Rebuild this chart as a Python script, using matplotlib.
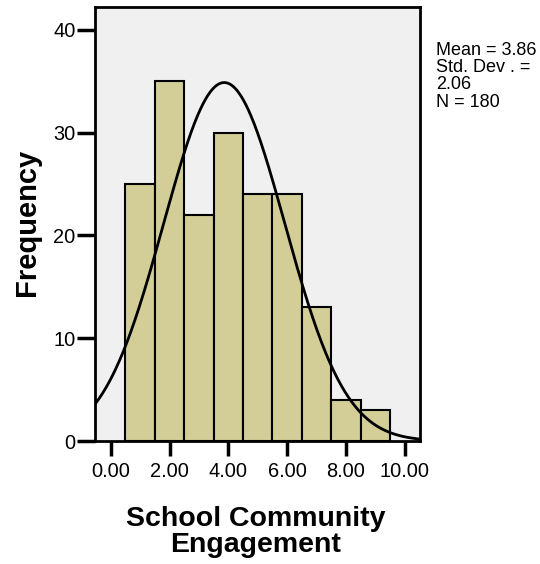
import numpy as np
import matplotlib.pyplot as plt

plt.rcParams['font.family'] = ['Liberation Sans', 'DejaVu Sans']

# histogram bins (width 1) and counts
bin_centers = [1, 2, 3, 4, 5, 6, 7, 8, 9]
counts = [25, 35, 22, 30, 24, 24, 13, 4, 3]
mean = 3.86
std = 2.06
n = 180
x_ticks = [0, 2, 4, 6, 8, 10]
y_ticks = [0, 10, 20, 30, 40]
stats_lines = ['Mean = 3.86', 'Std. Dev . =', '2.06', 'N = 180']

fig = plt.figure(figsize=(5.4, 5.64), dpi=100)
ax = fig.add_axes([0.175, 0.218, 0.603, 0.7695])
ax.set_facecolor('#f0f0f0')

ax.bar(bin_centers, counts, width=1.0, color='#d3ce97', edgecolor='black',
       linewidth=1.5, zorder=2)

# normal curve scaled to counts
xs = np.linspace(-0.6, 10.6, 400)
ys = n * 1.0 / (std * np.sqrt(2 * np.pi)) * np.exp(-0.5 * ((xs - mean) / std) ** 2)
ax.plot(xs, ys, color='black', linewidth=2, zorder=3)

ax.set_xlim(-0.55, 10.52)
ax.set_ylim(0, 42.2)
ax.set_xticks(x_ticks)
ax.set_xticklabels(['%.2f' % v for v in x_ticks])
ax.set_yticks(y_ticks)
ax.tick_params(axis='x', direction='out', length=11, width=2.5,
               labelsize=14.4, pad=4)
ax.tick_params(axis='y', direction='out', length=13, width=2.5,
               labelsize=14.4, pad=0.5)
for s in ax.spines.values():
    s.set_linewidth(2)

fig.text(0.05, 0.606, 'Frequency', rotation=90, fontsize=21,
         fontweight='bold', ha='center', va='center')
fig.text(0.474, 0.056, 'School Community\nEngagement', fontsize=20.5,
         fontweight='bold', ha='center', va='center', linespacing=1.0)
for i, line in enumerate(stats_lines):
    fig.text(0.807, 0.9113 - i * 0.031, line, fontsize=13,
             ha='left', va='center')

fig.savefig('out.png', dpi=100)
